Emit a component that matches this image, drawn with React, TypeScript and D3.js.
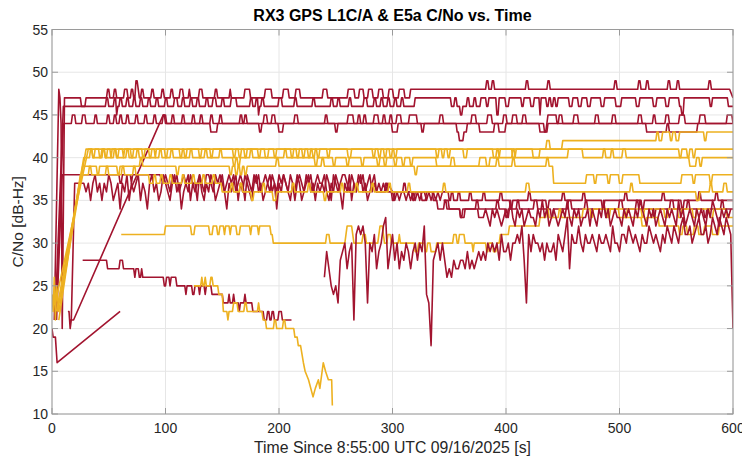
import React from "react";
import * as d3 from "d3";

type Run = number[];

const W = 742;
const H = 463;
const PL = 52, PR = 733, PT = 29.5, PB = 414;

const xTicks = [0, 100, 200, 300, 400, 500, 600];
const yTicks = [10, 15, 20, 25, 30, 35, 40, 45, 50, 55];
const TITLE = "RX3 GPS L1C/A & E5a C/No vs. Time";
const XLABEL = "Time Since 8:55:00 UTC 09/16/2025 [s]";
const YLABEL = "C/No [dB-Hz]";

const RED = "#A2142F";
const ORANGE = "#EDB120";

// sampled values (start time, step, hand-read values) -> ramped vertices
function seq(t0: number, dt: number, vals: number[]): Run[] {
  return vals.map((v, i) => [t0 + i * dt, v, 1]);
}

// ---------- GPS L1C/A (red) ----------
const r1: Run[] = [[2,21],[6,48,1],[7,47,1],[8,44,1],[9,20,1],[11,47,1],
  [26,46],[30,47],[49,48],[51,47],[55,48],[57,47],[64,48],[67,47],[70,48],[72,47],[74,49],[76,48],[77,47],[79,48],[81,47],[88,48],[90,47],[97,48],[99,47],[105,48],[107,47],[113,48],[116,47],[121,48],[122,47],[130,48],[133,47],[144,48],[146,47],[157,48],[158,47],
  [170,48],[175,47],[188,48],[194,47],[204,48],[209,47],[215,48],[219,47],[239,48],[243,47],[261,48],[267,47],[271,48],[275,47],[279,48],[283,47],[288,48],[292,47],[297,48],[301,47],[306,48],[311,47],[316,48],
  [383,49],[385,48],[388,49],[390,48],[418,49],[420,48],[437,49],[439,48],[496,49],[498,48],[517,49],[519,48],[524,49],[526,48],[543,49],[545,48],[551,49],[553,48],[579,49],[581,48],[597,48],[600,47,1]];

const r2: Run[] = [[3,22],[10,46,1],
  [48,47],[50,46],[55,47],[57,45],[58,46],[60,47],[62,46],[66,47],[68,46],[72,47],[74,46],[78,47],[80,46],[85,47],[87,46],[92,47],[94,46],[100,47],[102,46],[108,47],[111,46],[115,47],[117,46],[122,47],[124,46],[128,47],[130,46],[136,47],[138,46],[142,47],[145,46],[150,47],[152,46],[158,47],[163,46],
  [175,47],[177,46],[180,47],[182,45],[183,46],[185,47],[187,46],[200,47],[203,46],[214,47],[216,46],[230,47],[232,46],[246,47],[248,46],[252,47],[254,46],[262,47],[264,46],[275,47],[278,46],[284,47],[286,46],[290,47],[292,46],[296,47],[298,46],[302,47],[304,46],[308,47],[310,46],
  [320,47],[352,46],[355,47],[357,46],[360,45],[362,46],[366,47],[368,46],[372,47],[374,46],[378,47],
  [383,46],[385,47],[392,45],[394,47],[400,46],[403,47],[414,46],[416,47],[422,46],[425,47],[430,45],[431,47],[436,46],[438,47],[440,46],[442,47],[444,46],[446,47],[456,46],[459,47],[464,46],[467,47],[472,46],[475,47],[484,46],[487,47],[497,46],[502,47],[515,46],[518,47],[530,46],[533,47],[541,46],[544,47],[553,46],[555,45],[557,47],[580,46],[582,47],[596,46],[600,46]];

const r3: Run[] = [[4,23],[10,44,1],
  [18,45],[21,44],[27,45],[30,44],[38,45],[40,44],[49,45],[51,44],[55,45],[57,44],[60,45],[62,44],[66,45],[68,44],[74,45],[76,44],[82,45],[84,44],[90,45],[92,44],[98,45],[100,44],[106,45],[108,44],[115,45],[117,44],[124,45],[126,44],[131,45],[133,44],[140,45],[142,44],[148,45],[150,44],
  [166,45],[168,44],[170,45],[172,44],[183,43],[185,44],[187,45],[190,44],[194,45],[197,44],[214,45],[217,44],[241,45],[243,44],[250,43],[252,44],[261,45],[266,44],[270,45],[272,44],[275,45],[277,44],[284,45],[288,44],[292,45],[294,44],[298,45],[300,44],[304,45],[308,44],[315,45],[322,44],[326,43],[328,44],[342,45],[345,44],[357,43],[359,42],[363,43],[366,44],[370,45],[374,44],
  [384,45],[388,44],[398,45],[401,44],[406,45],[410,44],[415,45],[418,44],[434,43],[436,44],[437,45],[445,44],[447,45],[450,44],[460,45],[464,44],[479,45],[482,44],[494,45],[497,44],[517,45],[520,44],[530,45],[532,44],[541,45],[544,44],[553,45],[558,44],[571,45],[576,44],[595,45],[600,44]];

const r4: Run[] = [[14,22],[16,20],[17,21],[19,21],[98,45,1],[101,44],[140,43],[146,44],[200,43],[204,44],[300,43],[305,44],[377,43],[390,44],[394,43],[400,44],[430,43],[437,44],[524,43],[542,44],[544,43],[569,44],[600,44]];

const r5Noise1 = [
  37,38,37,36,38,37,38,36,37,38,
  37,36,38,37,37,35,38,37,36,38,
  38,37,36,38,37,38,37,36,37,38,
  37,38,36,37,38,37,35,38,37,36,
  38,37,38,36,37,38,37,36,38,37,
  36,38,37,38,37,36,38,37,35,37,
  38,37,36,38,37,38,36,37,38,37,
  37,36,38,37,35,38,37,36,37,38,
  38,37,36,38,37,36,38,37,38,36,
  37,38,36,37,36,37,36,37,36,37];
const r5Noise2 = [36,35,36,35,36,36,35,36,35,36,35,36,35,36,36,35,36,35,36,35,36,35,36,36];
const r5: Run[] = [[4,21],[9,38,1],[60,37],[62,38],[70,37],[71,38],[95,38],
  ...seq(98, 2, r5Noise1), ...seq(300, 2, r5Noise2),
  [350,35],[352,36],[354,35],[358,36],[360,35],[368,36],[370,35],[380,36],[382,35],[395,36],[397,35],[404,34],[406,35],[420,36],[422,35],[436,34],[438,35],[450,36],[452,35],[468,36],[470,35],[485,34],[487,35],[505,36],[507,35],[520,34],[522,35],[538,36],[540,35],[555,34],[557,35],[570,36],[572,35],[585,36],[587,35],[600,35]];

const r6Noise = [
  37,36,37,35,37,38,36,37,35,37,
  36,38,37,35,36,37,34,37,36,38,
  35,37,36,37,38,35,37,36,34,37,
  38,36,37,35,36,38,37,36,35,37,
  38,36,37,34,36,37,38,35,37,36,
  37,38,36,35,37,36,38,37,35,36,
  37,38,36,34,37,36,37,38,35,37,
  36,38,37,36,35,37,38,36,37,35,
  36,37,38,36,37,34,37,36,38,37,
  36,35,37,36,38,37,35,36,37,38,
  36,37,35,37,36,37,38,36,35,37,
  36,38,37,36,34,37,36,38,35,37,
  36,37,38,36,37,35,36,37,38,36];
const r6: Run[] = [[15,21],[17,21],[20,37,1],[27,37], ...seq(28, 2, r6Noise),
  [290,36],[294,37],[296,36],[300,35],[302,36],[310,37],[312,36],[318,35],[320,36],[326,35],[330,36],[336,35],[340,34],[346,35],[348,34],[360,33],[362,34],[374,35],[376,34],[392,35],[394,34],[400,33],[402,34],[410,35],[412,34],[425,35],[428,34],[440,33],[442,34],[455,35],[458,34],[470,35],[472,34],[488,33],[490,34],[500,35],[503,34],[515,35],[517,34],[530,33],[532,34],[545,35],[548,34],[560,35],[562,34],[575,33],[577,34],[590,35],[592,34],[600,34]];

const r7Noise = [
  33,34,33,32,34,33,34,33,32,33,
  34,33,35,33,32,34,33,34,32,33,
  34,33,33,32,34,33,35,33,34,32,
  33,34,33,32,33,34,33,35,33,32,
  34,33,34,32,33,33,34,32,34,33,
  32,34,33,35,33,34,32,33,34,33,
  33,32,34,33,34,33,32,34,33,35,
  34,33,32,34,33,34,32,33,34,33,
  32,34,33,34,33,32,35,33,34,32,
  33,34,33,32,34,33,34,33,32,34,
  33,35,34,33,32,34,33,34,33,34];
const r7: Run[] = [[345,35],[350,34],[360,33],[364,34],[376,33], ...seq(380, 2, r7Noise)];

const r8Noise = [
  26,29,27,25,24,25,23,28,29,30,
  27,29,30,21,31,32,31,32,30,23,
  30,29,31,27,29,30,32,33,27,29,
  31,28,30,27,29,28,30,29,27,29,
  30,28,30,29,32,24,23,18,28,29,
  30,28,30,28,26,27,26,28,27,27,
  28,28,27,29,27,28,27,28,29,28,
  29,28,30,29,30,29,30,28,31,29,
  29,30,28,30,30,31,30,32,28,23,
  31,29,31,30,30,29,30,28,30,29,
  29,30,28,31,30,29,31,33,27,31,
  30,30,32,30,29,31,30,30,31,30,
  29,31,30,30,31,30,29,32,30,30,
  29,31,31,30,32,31,30,31,30,29,
  31,30,30,32,31,30,31,30,29,31,
  30,32,31,30,32,31,30,32,33,31,
  31,32,30,31,32,33,31,31,32,30,
  31,33,32,31,33,32,31,33,32,31,
  20];
const r8: Run[] = seq(240, 2, r8Noise);

const r9: Run[] = [[27,28],[49,27],[60,28],[63,27],[73,26],[74,27],[77,26],[79,27],[80,26],[99,25],[101,26],[104,25],[105,26],[110,25],[118,24],[119,25],[124,24],[126,25],[130,24],[131,25],[135,24],[136,25],[141,24],[151,23],[156,24],[157,23],[160,24],[161,23],[165,22],[166,23],[170,24],[171,23],[177,22],[187,21],[190,22],[192,21],[194,22],[196,21],[200,22],[203,21],[211,21]];

const r10: Run[] = [[0,20],[1,19],[3,19],[4.5,16,1],[60,22,1]];

// ---------- Galileo E5a (orange) ----------
const o1: Run[] = [[0,24],[1,22,1],[2,26,1],[3,21,1],[4,25,1],[6,22,1],[30,41,1],[436,42],[439,41],[450,42],[533,43],[535,42],[538,43],[545,42],[547,43],[550,42],[553,43],[575,42],[577,43],[600,43]];

const o2: Run[] = [[3,23],[32,41,1],[36,40],[38,41],[42,40],[44,41],[47,40],[49,41],[52,40],[53,41],[57,40],[59,41],[63,40],[64,41],[70,40],[72,41],[80,40],[82,41],[86,40],[88,41],[91,40],[92,41],[100,40],[102,41],[113,40],[115,41],[117,40],[119,41],[130,40],[132,41],[140,40],[142,41],[160,40],[162,41],[165,40],[167,41],[170,40],[172,41],[182,40],[184,41],[188,40],[191,41],[196,40],[198,41],[211,40],[213,41],[216,40],[218,41],[221,40],[223,41],[226,40],[228,41],[230,40],[232,41],[234,40],[236,41],[243,40],[245,41],[261,40],[264,41],[283,40],[285,41],[288,40],[290,41],[293,40],[295,41],[298,40],[300,41],[302,40],[304,41],[339,40],[341,41],[344,40],[346,41],[349,40],[351,41],[363,40],[366,41],[389,40],[395,41],[406,40],[409,41],[424,40],[430,41],[553,40],[555,41],[560,40],[562,41],[565,40],[567,41],[600,41]];

const o3: Run[] = [[5,22],[28,40,1],[34,41],[36,40],[45,41],[47,40],[55,41],[57,40],[66,41],[68,40],[75,41],[77,40],[95,41],[97,40],[105,41],[107,40],[122,41],[124,40],[135,41],[137,40],[148,41],[150,40],[160,39],[162,40],[164,39],[166,40],[175,41],[177,40],[205,41],[207,40],[232,39],[234,40],[248,39],[250,40],[260,39],[262,40],[273,39],[275,40],[287,39],[289,40],[293,39],[295,40],[302,39],[304,40],[309,39],[311,40],[316,39],[318,40],[339,39],[352,40],[355,39],[386,40],[392,41],[394,40],[406,41],[408,40],[455,41],[468,40],[486,41],[488,40],[493,41],[495,40],[503,41],[506,40],[562,39],[568,40],[571,39],[573,40],[600,40]];

const o4: Run[] = [[4,22],[27,39,1],[40,38],[42,39],[58,38],[60,39],[78,40],[80,39],[110,38],[112,39],[157,38],[159,39],[162,38],[164,39],[166,38],[168,39],[170,38],[172,39],[198,40],[200,39],[238,40],[240,39],[320,38],[322,39],[377,40],[383,39],[392,40],[394,39],[406,40],[408,39],[436,40],[438,39],[442,37],[471,38],[478,37],[480,38],[490,37],[492,38],[500,37],[503,38],[518,37],[555,38],[565,37],[567,38],[580,37],[582,38],[600,38]];

const o5: Run[] = [[6,21],[25,38,1],[33,39],[35,38],[48,39],[50,38],[62,39],[64,38],[72,39],[74,38],[86,37],[90,38],[92,37],[96,38],[98,37],[104,38],[106,37],[115,38],[117,37],[124,38],[126,37],[133,38],[135,37],[142,38],[144,37],[150,36],[158,37],[160,36],[166,37],[168,36],[176,35],[178,36],[186,37],[188,36],[195,35],[198,36],[212,37],[214,36],[226,37],[228,36],[240,35],[242,36],[255,37],[257,36],[268,37],[270,36],[282,37],[284,36],[297,37],[299,36],[314,37],[316,36],[345,37],[347,36],[418,37],[421,36],[510,37],[512,36],[568,35],[571,36],[580,37],[582,36],[592,37],[595,36],[600,36]];

const o6: Run[] = [[61,31],[100,32],[123,31],[126,32],[139,31],[142,32],[146,31],[148,32],[152,31],[153,32],[157,31],[158,32],[163,31],[166,32],[175,31],[176,32],[182,31],[183,32],[193,31],[195,30],[242,31],[245,30],[259,31],[260,32],[265,31],[266,30],[274,31],[277,30],[288,31],[289,32],[292,31],[293,30],[296,31],[299,30],[306,31],[307,30],[320,29],[323,30],[329,29],[331,30],[334,29],[339,30],[354,31],[357,30],[359,31],[364,30],[371,29],[372,30],[383,29],[385,30],[389,29],[392,30],[395,31],[403,32],[430,33],[436,34],[438,33],[447,34],[449,33],[468,34],[475,33],[477,34],[490,33],[492,34],[505,33],[507,34],[520,33],[522,34],[540,33],[543,34],[552,33],[555,34],[565,33],[568,34],[580,33],[583,34],[595,33],[600,33]];

const o7: Run[] = [[125,25],[132,26],[133,25],[135,26],[136,25],[140,26],[142,25],[147,24],[151,22],[155,21],[156,22],[160,23],[164,22],[170,23],[172,22],[182,23],[183,22],[186,21],[189,20],[196,21],[198,20],[204,21],[206,20],[210,20],[214,19],[217,18],[219,18],[221.5,16,1],[223,15,1],[226,14,1],[230,12,1],[232,13,1],[234.7,14,1],[236,13,1],[239,16,1],[241,15,1],[243.5,14,1],[246.4,14],[247,11,1]];

const o8: Run[] = [[480,34],[500,33],[520,32],[524,33],[535,32],[553,31],[556,32],[560,31],[566,32],[570,31],[575,32],[582,31],[588,32],[600,32]];

const redFirst = [r1, r2, r3, r4, r5, r6, r9, r10];
const orangeSeries = [o1, o2, o3, o4, o5, o6, o7, o8];
const redLast = [r7, r8];

function toPoints(runs: Run[]): [number, number][] {
  const pts: [number, number][] = [];
  runs.forEach((r, i) => {
    if (i > 0) {
      const p = runs[i - 1];
      const ramp = r[2] === 1;
      if (!ramp && r[0] - 1 > p[0]) pts.push([r[0] - 1, p[1]]);
    }
    pts.push([r[0], r[1]]);
  });
  return pts;
}

const FONT = "'Liberation Sans', Arial, Helvetica, sans-serif";

export default function App() {
  const x = d3.scaleLinear().domain([0, 600]).range([PL, PR]);
  const y = d3.scaleLinear().domain([10, 55]).range([PB, PT]);
  const line = d3.line<[number, number]>().x((d) => x(d[0])).y((d) => y(d[1]));
  const tickLen = 6;
  const axisColor = "#9a9a9a";
  const gridColor = "#e6e6e6";

  const drawSeries = (list: Run[][], color: string, key: string) =>
    list.map((s, i) => (
      <path key={key + i} d={line(toPoints(s)) || ""} fill="none" stroke={color}
        strokeWidth={1.6} strokeLinejoin="round" />
    ));

  return (
    <svg width={W} height={H} style={{ position: "absolute", left: 0, top: 0, background: "#fff" }}
      fontFamily={FONT}>
      <defs>
        <clipPath id="plotClip">
          <rect x={PL} y={PT} width={PR - PL} height={PB - PT} />
        </clipPath>
      </defs>
      <rect x={0} y={0} width={W} height={H} fill="#fff" />
      {xTicks.map((t) => (
        <line key={"gx" + t} x1={x(t)} x2={x(t)} y1={PT} y2={PB} stroke={gridColor} strokeWidth={1} />
      ))}
      {yTicks.map((t) => (
        <line key={"gy" + t} x1={PL} x2={PR} y1={y(t)} y2={y(t)} stroke={gridColor} strokeWidth={1} />
      ))}
      <g clipPath="url(#plotClip)">
        {drawSeries(redFirst, RED, "r")}
        {drawSeries(orangeSeries, ORANGE, "o")}
        {drawSeries(redLast, RED, "rl")}
      </g>
      <rect x={PL} y={PT} width={PR - PL} height={PB - PT} fill="none" stroke={axisColor} strokeWidth={1} />
      {xTicks.map((t) => (
        <g key={"tx" + t}>
          <line x1={x(t)} x2={x(t)} y1={PB} y2={PB - tickLen} stroke={axisColor} />
          <line x1={x(t)} x2={x(t)} y1={PT} y2={PT + tickLen} stroke={axisColor} />
          <text x={x(t)} y={PB + 19} textAnchor="middle" fontSize={14} fill="#262626">{t}</text>
        </g>
      ))}
      {yTicks.map((t) => (
        <g key={"ty" + t}>
          <line x1={PL} x2={PL + tickLen} y1={y(t)} y2={y(t)} stroke={axisColor} />
          <line x1={PR} x2={PR - tickLen} y1={y(t)} y2={y(t)} stroke={axisColor} />
          <text x={PL - 4} y={y(t) + 5} textAnchor="end" fontSize={14} fill="#262626">{t}</text>
        </g>
      ))}
      <text x={(PL + PR) / 2} y={20.5} textAnchor="middle" fontSize={16} fontWeight="bold" fill="#000">{TITLE}</text>
      <text x={(PL + PR) / 2} y={452.5} textAnchor="middle" fontSize={15.8} fill="#262626">{XLABEL}</text>
      <text transform={`translate(23, ${(PT + PB) / 2}) rotate(-90)`} textAnchor="middle" fontSize={15.5} fill="#262626">{YLABEL}</text>
    </svg>
  );
}
